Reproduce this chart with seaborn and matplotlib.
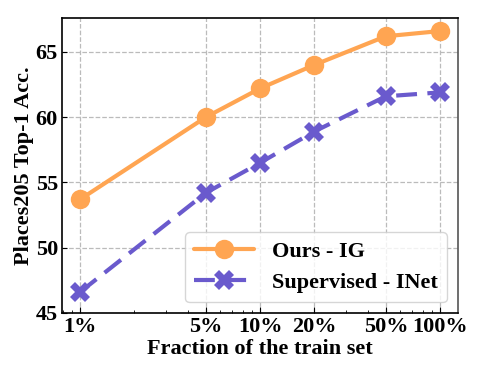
import matplotlib
matplotlib.use("Agg")
import matplotlib.pyplot as plt
import numpy as np
import pandas as pd
import seaborn as sns

fractions = [1, 5, 10, 20, 50, 100]
tick_labels = ['1%', '5%', '10%', '20%', '50%', '100%']
ours_ig = [53.7, 60.0, 62.2, 64.0, 66.2, 66.6]
supervised_inet = [46.6, 54.2, 56.5, 58.9, 61.6, 61.9]

df = pd.DataFrame({
    'fraction': fractions * 2,
    'acc': ours_ig + supervised_inet,
    'method': ['Ours - IG'] * 6 + ['Supervised - INet'] * 6,
})

sns.set_style('ticks')
plt.rcParams['font.family'] = ['Liberation Serif', 'DejaVu Serif']
plt.rcParams['font.weight'] = 'bold'
plt.rcParams['text.color'] = 'black'
plt.rcParams['xtick.color'] = 'black'
plt.rcParams['ytick.color'] = 'black'
plt.rcParams['axes.labelcolor'] = 'black'

fig = plt.figure(figsize=(4.93, 3.81), dpi=100)
ax = fig.add_axes([0.1258, 0.1785, 0.8032, 0.7743])

palette = {'Ours - IG': '#FFA552', 'Supervised - INet': '#6A5ACD'}
sns.lineplot(data=df, x='fraction', y='acc', hue='method', style='method',
             markers={'Ours - IG': 'o', 'Supervised - INet': 'X'},
             dashes={'Ours - IG': '', 'Supervised - INet': (5, 2.5)},
             palette=palette, linewidth=3, markersize=14, markeredgewidth=0,
             ax=ax)

ax.set_xscale('log')
ax.set_xticks(fractions)
ax.set_xticklabels(tick_labels)
ax.set_ylim(45, 67.6)
ax.set_yticks([45, 50, 55, 60, 65])
ax.tick_params(axis='both', which='both', direction='in', labelsize=16, pad=3)
ax.tick_params(axis='x', which='major', length=4)
ax.tick_params(axis='x', which='minor', length=2)
for lab in ax.get_xticklabels() + ax.get_yticklabels():
    lab.set_fontweight('bold')

ax.grid(True, which='major', linestyle='--', color='#bbbbbb', linewidth=0.9)
for s in ax.spines.values():
    s.set_color('black')
    s.set_linewidth(1.2)
ax.spines['right'].set_color('#555555')

ax.set_xlabel('Fraction of the train set', fontsize=16, fontweight='bold', labelpad=1)
ax.set_ylabel('Places205 Top-1 Acc.', fontsize=16, fontweight='bold', labelpad=1)

leg = ax.legend(loc='lower right', handlelength=2.7, borderaxespad=0,
                prop={'weight': 'bold', 'size': 16}, framealpha=0.8,
                bbox_to_anchor=(0.972, 0.037))
leg.set_title(None)

fig.savefig('out.png', dpi=100)
